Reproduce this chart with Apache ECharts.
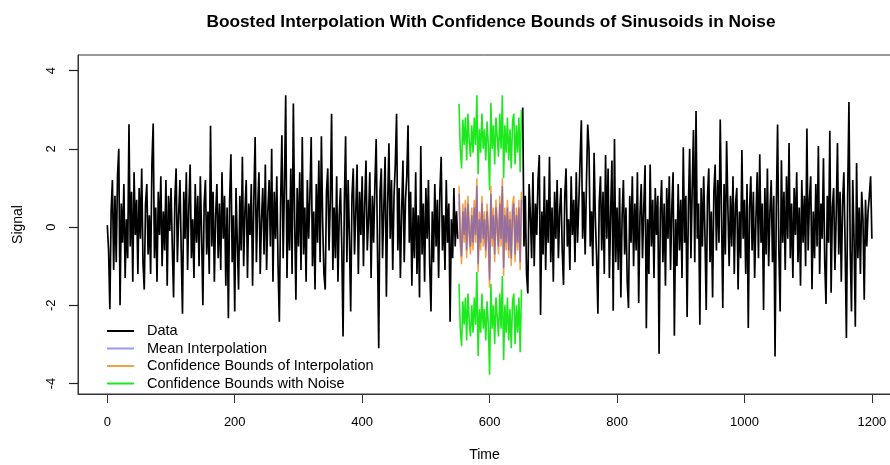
<!DOCTYPE html>
<html>
<head>
<meta charset="utf-8">
<script src="https://cdn.jsdelivr.net/npm/echarts@6/dist/echarts.min.js"></script>
<style>
  html, body { margin: 0; padding: 0; background: #fff; }
  #chart { width: 890px; height: 465px; }
</style>
</head>
<body>
<div id="chart"></div>
<script>
// sampling of the series (every 2 time units)
const timeStep = 2;
const dataStartA = 0;     // observed data before the gap
const dataStartB = 652;   // observed data after the gap
const interpStart = 552;  // interpolated section

const dataA = [
  0.05, -0.6, -2.1, 0.4, 1.2, -1.1, 0.8, -0.9, 1.3, 2.0, -2.0, 0.6, -0.4, 1.1, -1.3, 0.2, -0.8, 2.63, -0.5, 0.9, -1.4, 1.4, -0.2, 0.7, -1.2,
  1.0, -0.3, 1.5, -0.9, -1.6, 0.6, 1.1, -0.7, 0.3, -1.2, 1.6, 2.65, -0.8, 0.5, -1.4, 0.9, -0.2, 1.3, -1.0, 0.4, -0.6, 1.2, -1.5, 0.8, -0.1,
  1.0, -0.5, -1.8, 0.7, 1.5, -0.9, 0.3, 1.2, -0.6, -2.22, 0.9, -0.3, 1.4, -1.1, 0.5, 1.6, -0.8, 0.2, -1.3, 1.1, -0.4, 0.8, -1.0, 1.3, -0.2,
  -2.0, 0.6, 1.2, -0.7, 0.4, -1.2, 2.59, -0.5, 0.9, -1.4, 0.3, 1.1, -0.8, 0.6, -1.1, 1.4, -0.3, 0.8, -1.5, 0.5, -2.33, 0.7, 1.86, -0.9, 0.3,
  -2.16, 1.0, -0.4, -1.6, 0.8, -0.6, 1.8, -1.0, 0.4, 1.2, -1.3, 0.6, -0.2, 1.1, -1.5, 0.7, 2.3, -0.9, 0.5, 1.4, -1.2, 0.2, 1.0, -0.7, 1.6,
  -1.1, 0.4, 1.2, -0.5, 2.0, -1.4, 0.9, -0.3, 1.3, -1.0, -2.42, 0.6, 2.35, -0.8, 1.1, 3.37, -1.3, 0.7, -0.6, 1.5, -1.2, 3.16, 0.2, -1.86, 1.0,
  -0.5, 1.4, -1.1, 2.3, -0.7, 0.5, -1.4, 1.2, -0.3, 0.8, 2.3, -1.0, 0.4, -1.6, 1.1, -0.4, 1.7, -0.9, 2.32, 0.1, -1.2, -1.6, 0.9, 1.5, -0.6,
  0.7, 2.9, -1.1, 0.5, -0.8, 1.3, -1.4, 0.3, 1.0, -0.5, -2.8, 0.6, 2.32, -0.9, 1.2, -0.3, -2.16, 0.8, 1.5, -0.7, 0.4, 1.6, -1.2, 0.9, -0.2,
  1.3, -1.0, 0.6, 1.7, -0.6, 0.2, 1.4, -1.3, 0.8, -0.4, 1.1, 2.25, -0.5, -3.1, 0.9, 1.5, -0.8, 0.5, 1.8, -1.78, 0.6, 2.14, -0.3, 1.2, -1.1,
  0.8, 1.6, 2.9, -0.6, 1.0, -1.3, 0.4, 1.7, -0.9, 0.7, 1.3, 2.6, -0.4, 0.9, -1.5, 0.5, -0.8, 1.4, -1.2, 0.3, -1.8, 2.07, -0.7, 0.6, -1.4,
  1.0, -0.3, 1.2, -1.0, -2.16, 0.4, -0.9, 1.1, -0.5, 0.7, -1.3, 0.9, 1.8, -0.6, 0.3, -1.1, 1.2, -0.4, 0.6, -2.42, 0.2, -0.8, 1.0, -0.5, 0.4,
  -0.3
];

const dataB = [
  3.06, -0.5, 0.8, -1.2, -1.7, 1.1, 0.3, -0.8, 1.4, -1.0, 0.6, -0.2, 1.2, 1.84, -2.25, 0.4, -0.7, 1.3, -1.1, 0.7, -0.4, 1.8, -0.9, 0.5, -1.4,
  0.9, -0.3, 1.2, -0.8, 0.4, 1.0, -0.6, -1.48, 0.8, 1.5, -0.5, 0.2, -1.1, 1.3, -0.2, 0.7, -0.9, 1.4, -0.4, 0.6, 1.7, 2.73, -0.3, 0.9, -0.7,
  1.1, 2.62, 2.0, -0.5, 0.4, -1.0, 1.9, 0.2, -0.8, -2.22, 0.6, 1.3, -0.6, 0.9, -1.2, 1.84, -0.3, 1.5, -1.3, 0.4, 1.7, -2.14, 2.25, -0.9, 0.5,
  -1.1, 1.0, -1.8, 0.3, 1.2, -0.7, 0.5, -1.4, -2.07, 0.8, -0.4, 1.3, -1.0, 0.6, -0.6, 1.4, -1.94, 0.3, 1.1, -0.8, 0.5, 1.58, -2.59, 0.2, -1.2,
  1.6, -0.5, 0.7, -1.3, 1.0, -0.2, 0.8, -3.24, 0.4, 1.2, -0.9, 0.6, -1.5, 1.0, -0.3, 1.3, -1.1, 0.5, 1.4, -2.78, 0.2, -1.0, 1.1, -0.6, 0.7,
  -1.3, 2.04, -0.4, 0.8, -2.3, 0.5, 2.0, -0.8, 1.0, 2.48, -0.9, 2.97, -0.3, 0.6, -2.5, 1.0, -0.5, 1.3, -0.2, -2.12, 0.8, 1.5, -0.9, 0.4, -1.8,
  0.9, 1.6, -0.6, 1.2, -0.4, 2.75, 0.3, -2.07, 1.1, -0.7, 2.2, 0.5, -1.0, 0.8, -0.5, 1.3, -1.2, 0.6, 1.0, -1.6, 0.4, -0.8, 1.97, -0.3, 0.7,
  -1.2, 1.1, -2.58, 0.5, 1.3, -0.6, 0.9, -1.3, 0.2, 1.4, -0.8, 1.86, -0.4, 0.6, -2.12, 1.0, -0.7, 1.5, -1.0, 0.4, 1.2, -0.9, 0.8, -3.31, 0.5,
  2.62, -0.6, -2.16, 1.71, -0.4, 0.9, -1.1, 1.3, -0.3, 2.15, -0.8, 0.6, -1.3, 1.0, -0.2, 1.4, -0.9, 0.5, -1.5, 1.2, -0.4, 0.8, -1.0, 2.52, -0.6,
  0.7, 1.3, -1.59, 0.4, -0.8, 1.1, -0.5, 2.07, -1.2, 0.6, -0.3, 1.76, -0.9, -1.97, 0.8, -0.4, 2.46, -1.68, 0.5, 1.0, -1.1, 0.3, 2.15, -0.7, 0.9,
  -1.4, 0.6, 1.4, -0.5, -2.84, 0.8, 3.2, -0.6, -2.16, 1.2, -0.3, -2.55, 1.64, -0.8, 0.5, -1.2, 0.9, 0.2, -1.86, 0.7, -0.5, 0.4, 0.8, 1.3, -0.3
];

const meanInterp = [
  0.85, -0.3, -0.75, 0.4, -0.2, 0.5, -0.6, 0.6, -0.1, -0.5, 0.3, -0.4, 0.5, -0.2, 1.05, -0.95, 0.2, -0.4, 0.6, -0.3, 0.2, -0.6, 0.4, -0.2, -1.35,
  0.85, -0.3, 0.3, -0.7, 0.5, 0.0, -0.5, 0.6, -0.3, 1.05, -1.05, 0.3, -0.4, 0.5, -0.6, 0.2, -0.8, 0.4, 0.6, -0.7, 0.3, -0.4, 0.5, -0.9, 0.7
];
const interpUpper = [
  1.05, -0.1, -0.55, 0.6, 0.0, 0.7, -0.4, 0.8, 0.1, -0.3, 0.5, -0.2, 0.7, 0.0, 1.25, -0.75, 0.4, -0.2, 0.8, -0.1, 0.4, -0.4, 0.6, 0.0, -1.15,
  1.05, -0.1, 0.5, -0.5, 0.7, 0.2, -0.3, 0.8, -0.1, 1.25, -0.85, 0.5, -0.2, 0.7, -0.4, 0.4, -0.6, 0.6, 0.8, -0.5, 0.5, -0.2, 0.7, -0.7, 0.9
];
const interpLower = [
  0.65, -0.5, -0.95, 0.2, -0.4, 0.3, -0.8, 0.4, -0.3, -0.7, 0.1, -0.6, 0.3, -0.4, 0.85, -1.15, 0.0, -0.6, 0.4, -0.5, 0.0, -0.8, 0.2, -0.4, -1.55,
  0.65, -0.5, 0.1, -0.9, 0.3, -0.2, -0.7, 0.4, -0.5, 0.85, -1.25, 0.1, -0.6, 0.3, -0.8, 0.0, -1.0, 0.2, 0.4, -0.9, 0.1, -0.6, 0.3, -1.1, 0.5
];
const noiseUpper = [
  3.15, 2.0, 1.5, 2.75, 2.1, 2.8, 1.7, 2.9, 2.2, 1.8, 2.6, 1.9, 2.8, 2.1, 3.37, 1.35, 2.5, 1.9, 2.9, 2.0, 2.5, 1.7, 2.7, 2.1, 0.95,
  3.17, 2.0, 2.6, 1.6, 2.8, 2.3, 1.8, 2.9, 2.0, 3.37, 1.25, 2.6, 1.9, 2.8, 1.7, 2.5, 1.5, 2.7, 2.9, 1.6, 2.6, 1.9, 2.8, 1.4, 3.0
];
const noiseLower = [
  -1.45, -2.6, -3.05, -1.9, -2.5, -1.8, -2.9, -1.7, -2.4, -2.8, -2.0, -2.7, -1.8, -2.5, -1.15, -3.3, -2.1, -2.7, -1.7, -2.6, -2.1, -2.9, -1.9, -2.5, -3.78,
  -1.45, -2.6, -2.0, -3.0, -1.8, -2.3, -2.8, -1.7, -2.6, -1.25, -3.4, -2.0, -2.7, -1.8, -2.9, -2.1, -3.1, -1.9, -1.7, -3.0, -2.0, -2.7, -1.8, -3.2, -1.6
];

const timeTicks = [0, 200, 400, 600, 800, 1000, 1200];
const signalTicks = [-4, -2, 0, 2, 4];

const toPairs = (values, start) => values.map((v, i) => [start + i * timeStep, v]);

const FONT = "Liberation Sans, Arial, Helvetica, sans-serif";
const chart = echarts.init(document.getElementById("chart"), null, { renderer: "canvas" });

const lineSeries = (name, data, color, width, z) => ({
  name: name,
  type: "line",
  data: data,
  showSymbol: false,
  symbol: "none",
  lineStyle: { color: color, width: width },
  itemStyle: { color: color },
  z: z,
  silent: true,
});

chart.setOption({
  animation: false,
  backgroundColor: "#fff",
  title: {
    text: "Boosted Interpolation With Confidence Bounds of Sinusoids in Noise",
    left: 486,
    top: 9,
    textAlign: "center",
    textStyle: { fontFamily: FONT, fontSize: 17.3, fontWeight: "bold", color: "#000" },
  },
  grid: {
    left: 78,
    top: 55,
    right: -1,
    bottom: 71,
    outerBoundsMode: "none",
    show: true,
    borderColor: "#333",
    borderWidth: 1,
    backgroundColor: "transparent",
  },
  legend: {
    orient: "vertical",
    left: 107,
    top: 323,
    padding: 0,
    itemWidth: 27,
    itemHeight: 2,
    itemGap: 1.5,
    icon: "rect",
    data: ["Data", "Mean Interpolation", "Confidence Bounds of Interpolation", "Confidence Bounds with Noise"],
    textStyle: { fontFamily: FONT, fontSize: 14.5, color: "#000", lineHeight: 16, padding: [0, 0, 0, 8] },
  },
  xAxis: {
    type: "value",
    min: -46,
    max: 1230,
    name: "Time",
    nameLocation: "middle",
    nameGap: 54,
    nameTextStyle: { fontFamily: FONT, fontSize: 14, color: "#000" },
    axisLine: { show: true, onZero: false, lineStyle: { color: "#333", width: 1 } },
    axisTick: { show: true, length: 9, customValues: timeTicks, lineStyle: { color: "#333", width: 1 } },
    axisLabel: { customValues: timeTicks, margin: 22, fontFamily: FONT, fontSize: 13, color: "#000", formatter: (v) => String(v) },
    splitLine: { show: false },
  },
  yAxis: {
    type: "value",
    min: -4.27,
    max: 4.4,
    name: "Signal",
    nameLocation: "middle",
    nameGap: 53,
    nameTextStyle: { fontFamily: FONT, fontSize: 14, color: "#000" },
    axisLine: { show: true, onZero: false, lineStyle: { color: "#333", width: 1 } },
    axisTick: { show: true, inside: false, length: 9, customValues: signalTicks, lineStyle: { color: "#222", width: 1.2 } },
    axisLabel: { customValues: signalTicks, rotate: 90, margin: 20, fontFamily: FONT, fontSize: 13, color: "#000", formatter: (v) => String(v) },
    splitLine: { show: false },
  },
  series: [
    lineSeries("Data", toPairs(dataA, dataStartA), "#000", 1.7, 2),
    lineSeries("Data", toPairs(dataB, dataStartB), "#000", 1.7, 2),
    lineSeries("Confidence Bounds with Noise", toPairs(noiseUpper, interpStart), "#1ee81e", 1.6, 3),
    lineSeries("Confidence Bounds with Noise", toPairs(noiseLower, interpStart), "#1ee81e", 1.6, 3),
    lineSeries("Confidence Bounds of Interpolation", toPairs(interpUpper, interpStart), "#f3a048", 1.5, 4),
    lineSeries("Confidence Bounds of Interpolation", toPairs(interpLower, interpStart), "#f3a048", 1.5, 4),
    lineSeries("Mean Interpolation", toPairs(meanInterp, interpStart), "rgba(70,70,235,0.55)", 1.5, 5),
  ],
});
</script>
</body>
</html>
